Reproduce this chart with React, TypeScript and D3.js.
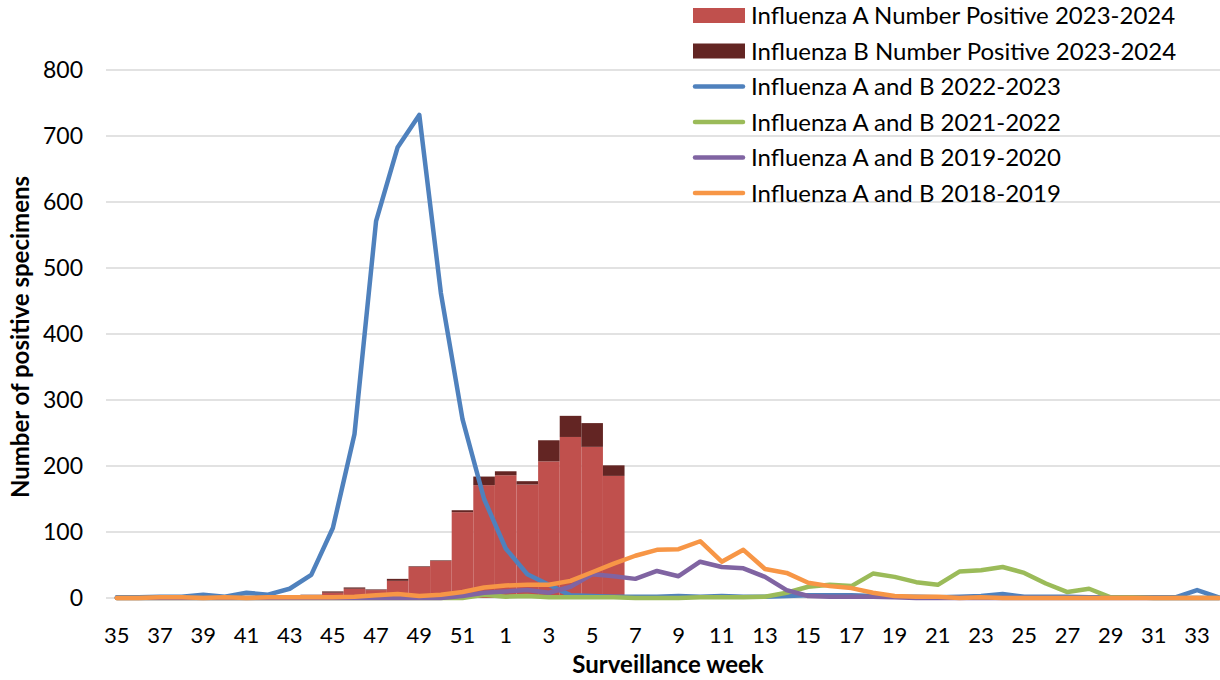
import React from "react";
import * as d3 from "d3";

const weeks: number[] = [
  35, 36, 37, 38, 39, 40, 41, 42, 43, 44, 45, 46, 47, 48, 49, 50, 51, 52,
  1, 2, 3, 4, 5, 6, 7, 8, 9, 10, 11, 12, 13, 14, 15, 16, 17, 18, 19, 20,
  21, 22, 23, 24, 25, 26, 27, 28, 29, 30, 31, 32, 33, 34,
];

// Bars (2023-2024), weeks 35..6
const fluA2324: (number | null)[] = [
  0, 0, 0, 0, 0, 0, 0, 0, 0, 3, 8, 14, 12, 26, 47, 56, 130, 171,
  186, 172, 207, 244, 229, 185,
];
const fluB2324: (number | null)[] = [
  0, 0, 0, 0, 0, 0, 0, 0, 0, 2, 2, 2, 1, 3, 1, 1, 3, 13,
  6, 5, 32, 32, 36, 16,
];

const ab2223: number[] = [
  1, 1, 2, 2, 5, 2, 8, 5, 14, 35, 106, 248, 571, 683, 732, 462, 271, 150,
  75, 36, 20, 4, 3, 2, 2, 2, 3, 2, 3, 2, 2, 3, 4, 4, 4, 3, 2, 2,
  1, 2, 3, 6, 2, 2, 2, 1, 1, 1, 1, 1, 12, 1,
];
const ab2122: number[] = [
  0, 0, 0, 0, 0, 0, 0, 0, 0, 0, 0, 0, 0, 0, 0, 0, 0, 5,
  2, 3, 1, 1, 1, 1, 0, 0, 0, 1, 1, 1, 2, 8, 17, 20, 18, 37, 32, 24,
  20, 40, 42, 47, 38, 22, 9, 14, 1, 1, 0, 0, 0, 0,
];
const ab1920: number[] = [
  0, 0, 0, 0, 0, 0, 0, 0, 0, 0, 0, 0, 0, 0, 0, 0, 3, 8,
  10, 12, 8, 17, 36, 33, 29, 41, 33, 55, 47, 45, 32, 12, 3, 2, 2, 2, 1, 0,
  0, 0, 0, 0, 0, 0, 0, 0, 0, 0, 0, 0, 0, 0,
];
const ab1819: number[] = [
  0, 0, 1, 1, 0, 1, 0, 1, 1, 1, 1, 2, 4, 6, 3, 5, 9, 16,
  19, 20, 20, 26, 39, 52, 64, 73, 74, 86, 55, 73, 44, 38, 23, 18, 15, 8, 3, 2,
  2, 0, 1, 0, 0, 0, 0, 0, 0, 0, 0, 0, 0, 0,
];

const yTicks: number[] = [0, 100, 200, 300, 400, 500, 600, 700, 800];

const lineSeries = [
  { name: "Influenza A and B 2022-2023", values: ab2223, color: "#4F81BD" },
  { name: "Influenza A and B 2021-2022", values: ab2122, color: "#9BBB59" },
  { name: "Influenza A and B 2019-2020", values: ab1920, color: "#8064A2" },
  { name: "Influenza A and B 2018-2019", values: ab1819, color: "#F79646" },
];

const barColorA = "#C0504D";
const barColorB = "#632523";

const FONT = "Lato, 'Open Sans', sans-serif";

export default function App() {
  const W = 1220;
  const H = 680;
  const x = d3
    .scaleBand<string>()
    .domain(weeks.map(String))
    .range([106, 1229.5])
    .padding(0);
  const y = d3.scaleLinear().domain([0, 800]).range([598, 70]);
  const bw = x.bandwidth();
  const cx = (i: number) => (x(String(weeks[i])) as number) + bw / 2;

  const line = d3
    .line<number>()
    .x((_, i) => cx(i))
    .y((v) => y(v));

  const legendRows = [
    { name: "Influenza A Number Positive 2023-2024", kind: "rect", color: barColorA },
    { name: "Influenza B Number Positive 2023-2024", kind: "rect", color: barColorB },
    ...lineSeries.map((s) => ({ name: s.name, kind: "line", color: s.color })),
  ];

  return (
    <svg
      width={W}
      height={H}
      style={{ position: "absolute", left: 0, top: 0, background: "#fff" }}
      fontFamily={FONT}
    >
      <rect x={0} y={0} width={W} height={H} fill="#fff" />
      {/* gridlines */}
      {yTicks.map((t) => (
        <line
          key={t}
          x1={106}
          x2={1230}
          y1={y(t)}
          y2={y(t)}
          stroke="#D9D9D9"
          strokeWidth={1.5}
        />
      ))}
      {/* y tick labels */}
      {yTicks.map((t) => (
        <text
          key={"yl" + t}
          x={83}
          y={y(t)}
          dy="0.36em"
          textAnchor="end"
          fontSize={23}
          fill="#000"
        >
          {t}
        </text>
      ))}
      {/* bars */}
      {fluA2324.map((a, i) => {
        const b = fluB2324[i] ?? 0;
        const av = a ?? 0;
        const x0 = x(String(weeks[i])) as number;
        return (
          <g key={"bar" + i}>
            {av > 0 && (
              <rect x={x0} width={bw} y={y(av)} height={y(0) - y(av)} fill={barColorA} />
            )}
            {b > 0 && (
              <rect x={x0} width={bw} y={y(av + b)} height={y(av) - y(av + b)} fill={barColorB} />
            )}
          </g>
        );
      })}
      {/* lines */}
      {lineSeries.map((s) => (
        <path
          key={s.name}
          d={line(s.values) || ""}
          fill="none"
          stroke={s.color}
          strokeWidth={4.5}
          strokeLinejoin="round"
          strokeLinecap="round"
        />
      ))}
      {/* x tick labels */}
      {weeks.map((w, i) =>
        i % 2 === 0 ? (
          <text
            key={"xl" + w}
            x={cx(i)}
            y={643}
            textAnchor="middle"
            fontSize={22}
            fill="#000"
          >
            {w}
          </text>
        ) : null
      )}
      {/* axis titles */}
      <text
        x={668}
        y={673}
        textAnchor="middle"
        fontSize={24}
        fontWeight="bold"
        fill="#000"
      >
        Surveillance week
      </text>
      <text
        transform={`translate(29,337) rotate(-90)`}
        textAnchor="middle"
        fontSize={24}
        fontWeight="bold"
        fill="#000"
      >
        Number of positive specimens
      </text>
      {/* legend */}
      {legendRows.map((r, i) => {
        const cy = 15.5 + i * 35.5;
        return (
          <g key={"lg" + i}>
            {r.kind === "rect" ? (
              <rect x={693} y={cy - 7.5} width={52} height={15} fill={r.color} />
            ) : (
              <line
                x1={695}
                x2={743}
                y1={cy}
                y2={cy}
                stroke={r.color}
                strokeWidth={4.5}
                strokeLinecap="round"
              />
            )}
            <text x={751} y={cy} dy="0.36em" fontSize={24} fill="#000">
              {r.name}
            </text>
          </g>
        );
      })}
    </svg>
  );
}
